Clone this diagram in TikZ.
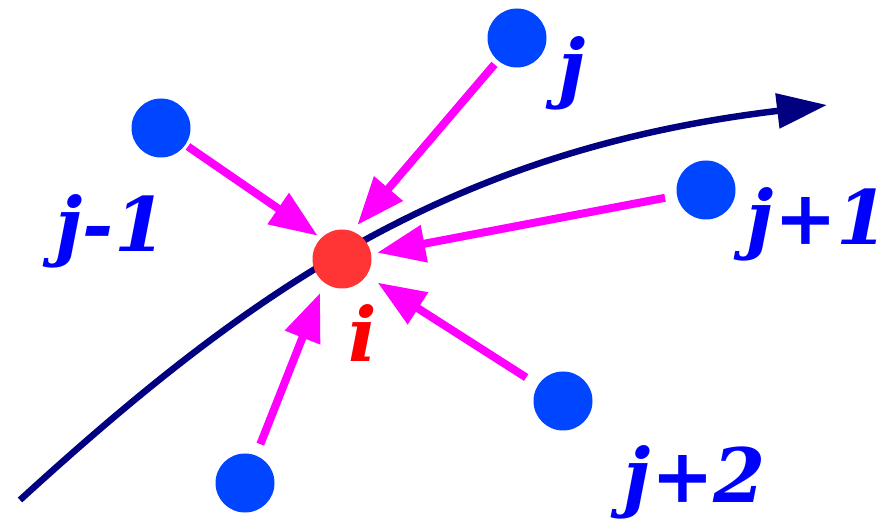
\documentclass[tikz,border=0pt]{standalone}
\usepackage{fontspec}
\setmainfont{DejaVu Serif}
\usetikzlibrary{arrows.meta}
\definecolor{dotblue}{HTML}{0045FF}
\definecolor{dotred}{HTML}{FF3535}
\definecolor{lblblue}{HTML}{0000FF}
\definecolor{lblred}{HTML}{FF0000}
\definecolor{curvenavy}{HTML}{000080}
\definecolor{arrmag}{HTML}{FF00FF}
\tikzset{
  dot/.style={circle, fill=dotblue, minimum size=59pt, inner sep=0pt},
  reddot/.style={circle, fill=dotred, minimum size=59pt, inner sep=0pt},
  lbl/.style={anchor=base, inner sep=0pt, text=lblblue, font=\fontsize{75}{75}\selectfont\bfseries\itshape},
  pull/.style={draw=arrmag, line width=8pt, -{Triangle[length=48pt,width=36pt]}},
  flow/.style={draw=curvenavy, line width=6.5pt, -{Triangle[length=50pt,width=34pt]}}
}
\begin{document}
\begin{tikzpicture}[x=1pt,y=1pt]
\useasboundingbox (0,0) rectangle (891,522);
\coordinate (cs) at (20,22);
\coordinate (ce) at (827,417);
\draw[flow] (cs) .. controls (250,232) and (450,372) .. (ce);
\node[reddot] (i) at (342,263) {};
\node[dot] (jm1) at (161,394) {};
\node[dot] (j) at (517,484) {};
\node[dot] (jp1) at (706,332) {};
\node[dot] (jp2) at (563,121) {};
\node[dot] (jb) at (245,39) {};
\draw[pull, shorten <=3pt, shorten >=4pt] (jm1) -- (i.135);
\draw[pull, shorten <=5pt, shorten >=8pt] (j) -- (i.70);
\draw[pull, shorten <=12pt, shorten >=6pt] (jp1) -- (i.10);
\draw[pull, shorten <=14pt, shorten >=13pt] (jp2) -- (i.-34);
\draw[pull, shorten <=12pt, shorten >=11pt] (jb) -- (i.233);
\node[lbl] (ljm1) at (111,270) {j-1};
\node[lbl] (lj) at (572,428) {j};
\node[lbl] (ljp1) at (818,277) {j+1};
\node[lbl, text=lblred] (li) at (363,160) {i};
\node[lbl] (ljp2) at (695,20) {j+2};
\end{tikzpicture}
\end{document}
